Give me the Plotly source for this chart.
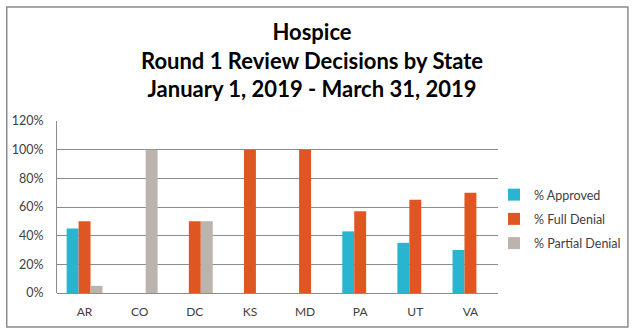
import plotly.graph_objects as go

states = ["AR", "CO", "DC", "KS", "MD", "PA", "UT", "VA"]
approved = [0.45, None, None, None, None, 0.43, 0.35, 0.30]
full_denial = [0.50, None, 0.50, 1.00, 1.00, 0.57, 0.65, 0.70]
partial_denial = [0.05, 1.00, 0.50, None, None, None, None, None]
y_ticks = [0, 0.2, 0.4, 0.6, 0.8, 1.0, 1.2]
title_lines = ["Hospice", "Round 1 Review Decisions by State",
               "January 1, 2019 - March 31, 2019"]

W, H = 638, 333
L, R, T, B = 57, 500, 121, 293

def px(x):
    return (x - L) / (R - L)

def py(y):
    return (B - y) / (B - T)

fig = go.Figure()
series = [
    ("% Approved", approved, "#29B5D0"),
    ("% Full Denial", full_denial, "#E05623"),
    ("% Partial Denial", partial_denial, "#BCB4AC"),
]
for i, (name, vals, col) in enumerate(series):
    fig.add_trace(go.Bar(x=states, y=vals, name=name, marker_color=col,
                         marker_line_width=0, legendgroup=str(i)))

fig.update_layout(
    width=W, height=H,
    margin=dict(l=L, r=W - R, t=T, b=H - B),
    paper_bgcolor="white", plot_bgcolor="white",
    barmode="group", bargap=0.35, bargroupgap=0,
    font=dict(family="Lato, Open Sans, sans-serif", size=12, color="#404040"),
    legend=dict(x=px(496), y=py(180), xanchor="left", yanchor="top",
                font=dict(size=12.5, color="#404040"), tracegroupgap=5,
                itemwidth=30, bgcolor="rgba(0,0,0,0)"),
    showlegend=True,
)
fig.add_annotation(
    text="<br>".join(title_lines), xref="paper", yref="paper",
    x=px(313), y=py(16), xanchor="center", yanchor="top", showarrow=False,
    align="center",
    font=dict(family="Lato, Open Sans, sans-serif", size=22, color="black", weight="bold"),
)
fig.update_xaxes(showline=False, ticks="", tickfont=dict(size=12, color="#404040"),
                 showgrid=False, ticklabelstandoff=10)
fig.update_yaxes(range=[0, 1.2], tickvals=y_ticks, tickformat=".0%",
                 showgrid=True, gridcolor="#8C8C8C", gridwidth=1,
                 zeroline=True, zerolinecolor="#8C8C8C", zerolinewidth=1,
                 showline=True, linecolor="#8C8C8C", linewidth=1,
                 ticks="", ticklen=0, ticklabelstandoff=10,
                 tickfont=dict(size=12.5, color="#404040"))

fig.add_shape(type="rect", xref="paper", yref="paper",
              x0=px(6.5), x1=px(630.5), y0=py(327), y1=py(7),
              line=dict(color="#8C8C8C", width=1.5), fillcolor="rgba(0,0,0,0)",
              layer="below")

fig.write_html("out.html")
